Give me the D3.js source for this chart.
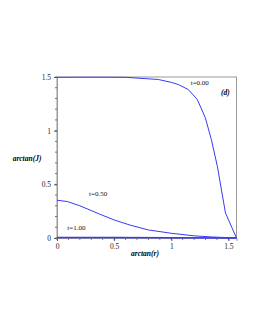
<!DOCTYPE html>
<html>
<head>
<meta charset="utf-8">
<script src="https://cdn.jsdelivr.net/npm/d3@7"></script>
<style>
  body { margin: 0; background: #fff; }
  text { font-family: "Liberation Serif", "DejaVu Serif", serif; }
</style>
</head>
<body>
<div id="chart"></div>
<script>
// arctan(r) values and arctan(J) for each time
let xT0 = [0, 0.3, 0.6, 0.886, 1.0, 1.061, 1.149, 1.228, 1.298, 1.351, 1.404, 1.474, 1.5708];
let yT0 = [1.497, 1.498, 1.497, 1.477, 1.45, 1.43, 1.383, 1.29, 1.121, 0.916, 0.664, 0.234, 0];
let xT05 = [0, 0.09, 0.2, 0.37, 0.5, 0.64, 0.8, 1.0, 1.2, 1.35, 1.5708];
let yT05 = [0.352, 0.34, 0.30, 0.224, 0.168, 0.12, 0.075, 0.044, 0.02, 0.01, 0];
let xT1 = [0, 0.5, 1.0, 1.5708];
let yT1 = [0.004, 0.004, 0.003, 0];
let xTicks = [0, 0.5, 1, 1.5];
let yTicks = [0, 0.5, 1, 1.5];
let labels = [
    {text: "t=0.00", x: 1.17, y: 1.43},
    {text: "t=0.50", x: 0.28, y: 0.39},
    {text: "t=1.00", x: 0.09, y: 0.07}
];

let width = 255, height = 330;
let margin = {left: 57, right: 18.5, top: 77, bottom: 92};

let svg = d3.select("#chart")
    .append("svg")
        .attr("width", width)
        .attr("height", height);

let x = d3.scaleLinear()
    .domain([0, Math.PI / 2])
    .range([margin.left, width - margin.right]);
let y = d3.scaleLinear()
    .domain([0, 1.5])
    .range([height - margin.bottom, margin.top]);

// frame
svg.append("rect")
    .attr("x", x(0))
    .attr("y", y(1.5))
    .attr("width", x(Math.PI / 2) - x(0))
    .attr("height", y(0) - y(1.5))
    .attr("fill", "none")
    .attr("stroke", "#999")
    .attr("stroke-width", 1);

// minor ticks
let xMinor = d3.range(0, 1.55, 0.1);
let yMinor = d3.range(0, 1.55, 0.1);
svg.append("g").selectAll("line")
    .data(xMinor)
    .enter().append("line")
    .attr("x1", d => x(d)).attr("x2", d => x(d))
    .attr("y1", y(0)).attr("y2", y(0) + 2)
    .attr("stroke", "#555").attr("stroke-width", 0.8);
svg.append("g").selectAll("line")
    .data(yMinor)
    .enter().append("line")
    .attr("x1", x(0) - 2).attr("x2", x(0))
    .attr("y1", d => y(d)).attr("y2", d => y(d))
    .attr("stroke", "#555").attr("stroke-width", 0.8);

// axes
svg.append("g")
    .attr("transform", "translate(0," + y(0) + ")")
    .call(d3.axisBottom(x).tickValues(xTicks).tickSize(3).tickFormat(d3.format("")))
    .call(g => g.select(".domain").attr("stroke", "#999"))
    .call(g => g.selectAll(".tick line").attr("stroke", "#555"))
    .call(g => g.selectAll("text").attr("font-size", 7.5).attr("fill", "#222")
        .attr("font-family", "Liberation Serif"));
svg.append("g")
    .attr("transform", "translate(" + x(0) + ",0)")
    .call(d3.axisLeft(y).tickValues(yTicks).tickSize(3).tickFormat(d3.format("")))
    .call(g => g.select(".domain").attr("stroke", "#999"))
    .call(g => g.selectAll(".tick line").attr("stroke", "#555"))
    .call(g => g.selectAll("text").attr("font-size", 7.5).attr("fill", "#222")
        .attr("font-family", "Liberation Serif"));

// curves
let line = d3.line()
    .x(d => x(d[0]))
    .y(d => y(d[1]));
let series = [
    d3.zip(xT0, yT0),
    d3.zip(xT05, yT05),
    d3.zip(xT1, yT1)
];
svg.append("g").selectAll("path")
    .data(series)
    .enter().append("path")
    .attr("d", line)
    .attr("fill", "none")
    .attr("stroke", "#3a3af2")
    .attr("stroke-width", (d, i) => i == 2 ? 1.6 : 1);

// curve labels
svg.append("g").selectAll("text")
    .data(labels)
    .enter().append("text")
    .attr("x", d => x(d.x))
    .attr("y", d => y(d.y))
    .attr("font-size", 7)
    .attr("fill", "#111")
    .text(d => d.text);

svg.append("text")
    .attr("x", 221).attr("y", 95)
    .attr("font-size", 7.5)
    .attr("font-weight", "bold")
    .attr("font-style", "italic")
    .text("(d)");

// axis titles
svg.append("text")
    .attr("x", 145).attr("y", 256)
    .attr("text-anchor", "middle")
    .attr("font-size", 7.5)
    .attr("font-weight", "bold")
    .attr("font-style", "italic")
    .text("arctan(r)");
svg.append("text")
    .attr("x", 27).attr("y", 161)
    .attr("text-anchor", "middle")
    .attr("font-size", 7.5)
    .attr("font-weight", "bold")
    .attr("font-style", "italic")
    .text("arctan(J)");
</script>
</body>
</html>
